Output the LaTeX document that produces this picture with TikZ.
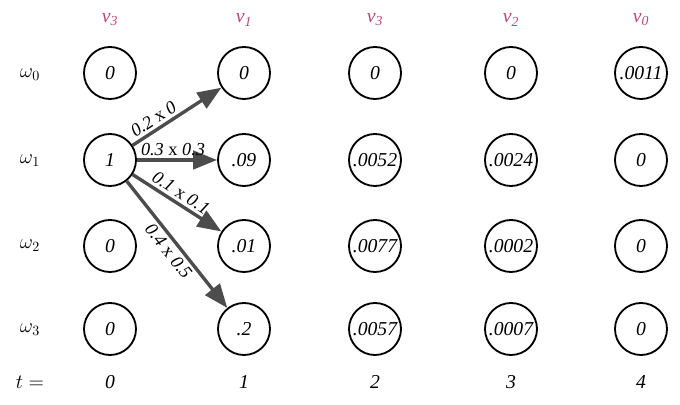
\documentclass[tikz,border=0pt]{standalone}
\usepackage{fontspec}
\setmainfont{Liberation Serif}
\usetikzlibrary{arrows.meta}
\definecolor{etat}{HTML}{B8467A}
\begin{document}
\begin{tikzpicture}[x=0.025cm,y=-0.025cm]
\tikzstyle{noeud} = [draw,circle,line width=1.3pt,minimum size=1.3cm,inner sep=0pt,font=\fontsize{14}{16}\selectfont\itshape] %cercles
\tikzstyle{fleche} = [line width=2.4pt,color=black!70,-{Triangle[length=17pt,width=13pt]}] %transitions
\tikzstyle{proba} = [sloped,inner sep=2pt,text=black,font=\fontsize{13}{15}\selectfont] %produits
\tikzstyle{titre} = [font=\fontsize{14}{16}\selectfont]
\useasboundingbox (0,0) rectangle (680,405);

%etats observes
\node[titre,color=etat] (v0) at (110,20) {\textit{v\textsubscript{3}}};
\node[titre,color=etat] (v1) at (244,20) {\textit{v\textsubscript{1}}};
\node[titre,color=etat] (v2) at (375,20) {\textit{v\textsubscript{3}}};
\node[titre,color=etat] (v3) at (511,20) {\textit{v\textsubscript{2}}};
\node[titre,color=etat] (v4) at (641,20) {\textit{v\textsubscript{0}}};

%etats caches
\node[titre] (w0) at (30,75) {$\omega_0$};
\node[titre] (w1) at (30,161) {$\omega_1$};
\node[titre] (w2) at (30,246) {$\omega_2$};
\node[titre] (w3) at (30,330) {$\omega_3$};

%colonne t=0
\node[noeud] (a0) at (110,73) {0};
\node[noeud] (a1) at (110,160) {1};
\node[noeud] (a2) at (110,246) {0};
\node[noeud] (a3) at (110,329) {0};

%colonne t=1
\node[noeud] (b0) at (244,73) {0};
\node[noeud] (b1) at (244,160) {.09};
\node[noeud] (b2) at (244,246) {.01};
\node[noeud] (b3) at (244,329) {.2};

%colonne t=2
\node[noeud] (c0) at (375,73) {0};
\node[noeud] (c1) at (375,160) {.0052};
\node[noeud] (c2) at (375,246) {.0077};
\node[noeud] (c3) at (375,329) {.0057};

%colonne t=3
\node[noeud] (d0) at (511,73) {0};
\node[noeud] (d1) at (511,160) {.0024};
\node[noeud] (d2) at (511,246) {.0002};
\node[noeud] (d3) at (511,329) {.0007};

%colonne t=4
\node[noeud] (e0) at (641,73) {.0011};
\node[noeud] (e1) at (641,160) {0};
\node[noeud] (e2) at (641,246) {0};
\node[noeud] (e3) at (641,329) {0};

%axe du temps
\node[titre] (t) at (30,382) {$t =$};
\node[titre,font=\fontsize{14}{16}\selectfont\itshape] (t0) at (110,382) {0};
\node[titre,font=\fontsize{14}{16}\selectfont\itshape] (t1) at (244,382) {1};
\node[titre,font=\fontsize{14}{16}\selectfont\itshape] (t2) at (375,382) {2};
\node[titre,font=\fontsize{14}{16}\selectfont\itshape] (t3) at (511,382) {3};
\node[titre,font=\fontsize{14}{16}\selectfont\itshape] (t4) at (641,382) {4};

%transitions depuis omega_1
\draw[fleche] (a1)--(b0) node[proba,above,pos=0.3] {\textit{0.2} x \textit{0}};
\draw[fleche] (a1)--(b1) node[proba,above,pos=0.45] {\textit{0.3} x \textit{0.3}};
\draw[fleche] (a1)--(b2) node[proba,above,pos=0.48] {\textit{0.1} x \textit{0.1}};
\draw[fleche] (a1)--(b3) node[proba,below,pos=0.5] {\textit{0.4} x \textit{0.5}};
\end{tikzpicture}
\end{document}
